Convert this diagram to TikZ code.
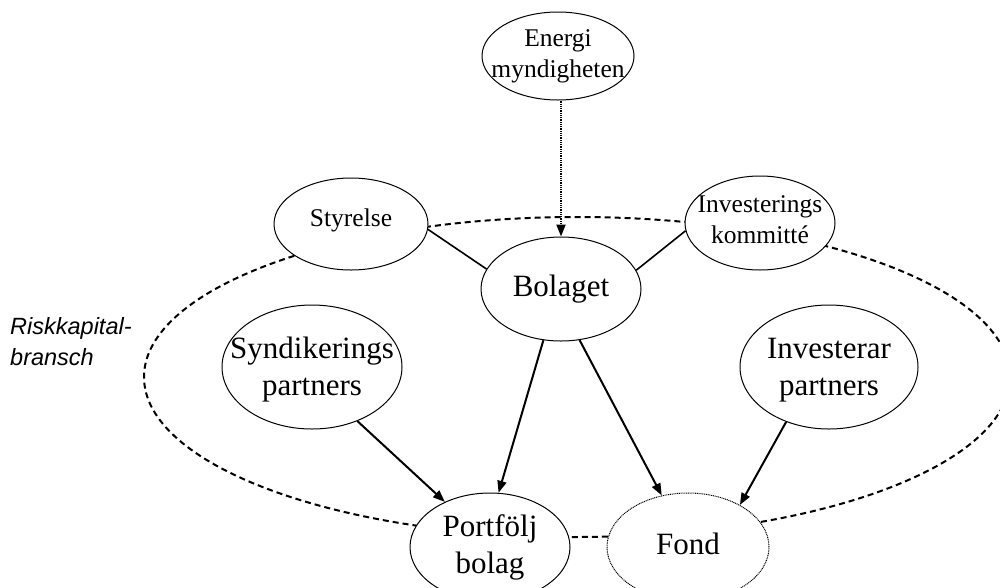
\documentclass[tikz,border=0pt]{standalone}
\usepackage{fontspec}
\setmainfont{Liberation Serif}
\newfontfamily\arialfont{Liberation Sans}
\usetikzlibrary{shapes.geometric,arrows.meta}

\tikzset{
  bubble/.style={ellipse, draw, line width=1pt, fill=white, inner sep=0pt},
  smalltxt/.style={font=\fontsize{25.5}{31}\selectfont, align=center, inner sep=0pt},
  bigtxt/.style={font=\fontsize{31}{37}\selectfont, align=center, inner sep=0pt},
  branch/.style={line width=2pt, dash pattern=on 6pt off 4pt},
  dotline/.style={dash pattern=on 1pt off 0.8pt},
  link/.style={line width=1.6pt},
  flow/.style={line width=2pt, -{Triangle[length=12pt,width=9pt]}},
}

\begin{document}
\begin{tikzpicture}[x=1pt,y=-1pt]
\useasboundingbox (0,0) rectangle (1000,587);

% the industry boundary, drawn first so the bubbles cover it
\draw[branch] (577,377) ellipse [x radius=433, y radius=160];

\node[anchor=west, align=left, font=\arialfont\itshape\fontsize{23.5}{31}\selectfont, inner sep=0pt]
  (bransch) at (10,342) {Riskkapital-\\bransch};

% actors
\node[bubble, minimum width=152pt, minimum height=88pt,
      label={[smalltxt]center:{Energi\\myndigheten}}] (energi) at (558,56) {};
\node[bubble, minimum width=154pt, minimum height=92pt,
      label={[smalltxt, yshift=4pt]center:{Styrelse}}] (styrelse) at (351,224) {};
\node[bubble, minimum width=150pt, minimum height=94pt,
      label={[smalltxt, yshift=3pt]center:{Investerings\\kommitté}}] (kommitte) at (760,223) {};
\node[bubble, minimum width=160pt, minimum height=104pt,
      label={[bigtxt]center:{Bolaget}}] (bolaget) at (561,289) {};
\node[bubble, minimum width=180pt, minimum height=124pt,
      label={[bigtxt, yshift=-3pt]center:{Syndikerings\\partners}}] (synd) at (312,367) {};
\node[bubble, minimum width=178pt, minimum height=124pt,
      label={[bigtxt, yshift=-3pt]center:{Investerar\\partners}}] (invp) at (829,367) {};
\node[bubble, minimum width=160pt, minimum height=108pt,
      label={[bigtxt]center:{Portfölj\\bolag}}] (portf) at (490,547) {};
\node[bubble, dotline, minimum width=162pt, minimum height=108pt,
      label={[bigtxt, yshift=3pt]center:{Fond}}] (fond) at (688,547) {};

% connections
\draw[flow, dotline] (energi.south -| bolaget.north) -- (bolaget.north);
\draw[link] (styrelse.-4.5) -- (bolaget.165);
\draw[link] (kommitte.186) -- (bolaget.14.6);
\draw[flow] (bolaget.251) -- (portf.81.6);
\draw[flow] (bolaget.-70) -- (fond.117);
\draw[flow] (synd.-50.7) -- (portf.135);
\draw[flow] (invp.232) -- (fond.39.8);
\end{tikzpicture}
\end{document}
